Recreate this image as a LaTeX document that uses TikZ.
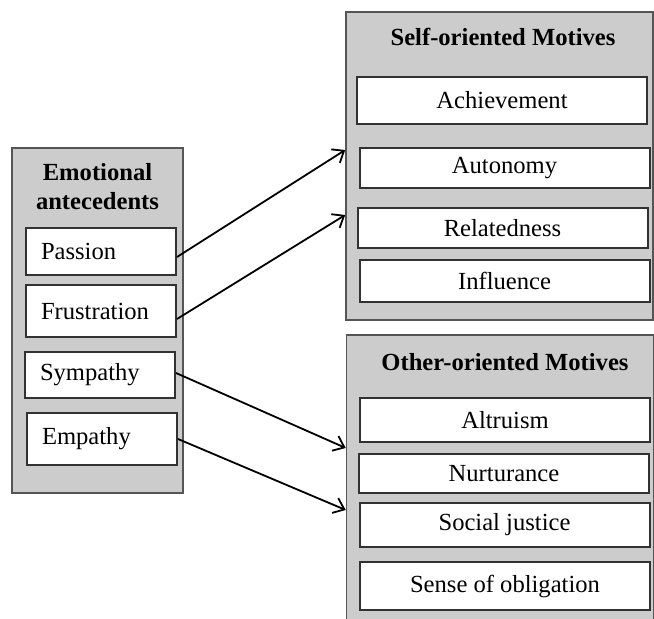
\documentclass[tikz,border=0pt]{standalone}
\usepackage{fontspec}
\setmainfont{Liberation Serif}
\usepackage{xcolor}
\usepackage{tikz}
\usetikzlibrary{positioning,arrows.meta,calc}
\definecolor{panelgray}{RGB}{204,204,204}
\definecolor{panelline}{RGB}{85,85,85}
\definecolor{boxline}{RGB}{50,50,50}

\begin{document}
\begin{tikzpicture}[
    x=0.5pt, y=-0.5pt,
    font=\fontsize{12.3}{14.5}\selectfont,
    panel/.style={draw=panelline, line width=0.8pt, fill=panelgray, inner sep=0pt},
    title/.style={font=\fontsize{12.3}{14.5}\selectfont\bfseries, align=center},
    item/.style={draw=boxline, line width=1pt, fill=white, inner sep=0pt,
        minimum width=145pt},
    emo/.style={draw=boxline, line width=1pt, fill=white, inner xsep=7.5pt,
        inner ysep=0pt, text width=60pt, align=left},
    arrow/.style={-{Straight Barb[length=5pt,width=8pt]}, line width=0.9pt}
]
\useasboundingbox (0,0) rectangle (654,619);
\clip (0,0) rectangle (654,619);

% left panel: emotional antecedents
\node[panel, minimum width=85.5pt, minimum height=172.5pt] (antecedents) at (97.5,320.5) {};
\node[title] (antetitle) at (97.5,187) {Emotional\\antecedents};
\node[emo, minimum height=23.5pt] (passion) at (101,251.5) {Passion};
\node[emo, minimum height=26pt] (frustration) at (101,311) {Frustration};
\node[emo, minimum height=23pt] (sympathy) at (100,375) {Sympathy};
\node[emo, minimum height=26pt] (empathy) at (102,439) {Empathy};

% top right panel: self-oriented motives
\node[panel, minimum width=153.5pt, minimum height=154pt] (selfmot) at (499.5,166) {};
\node[title] (selftitle) at (503,37) {Self-oriented Motives};
\node[item, minimum height=23.5pt] (achieve) at (502,100.5) {Achievement};
\node[item, minimum height=20pt] (autonomy) at (504.5,168) {Autonomy};
\node[item, minimum height=20pt] (related) at (502.5,228) {Relatedness};
\node[item, minimum height=21pt] (influence) at (504.5,281) {Influence};

% bottom right panel: other-oriented motives
\node[panel, minimum width=153.5pt, minimum height=150pt] (othermot) at (500,485) {};
\node[title] (othertitle) at (505,362) {Other-oriented Motives};
\node[item, minimum height=22pt] (altruism) at (505,420) {Altruism};
\node[item, minimum height=19.5pt] (nurture) at (504,473.5) {Nurturance};
\node[item, minimum height=22pt] (justice) at (504.5,525) {Social justice};
\node[item, minimum height=24pt] (obligation) at (505,586) {Sense of obligation};

% arrow targets on the panel edges
\coordinate (selfin1) at (selfmot.west |- 0,150);
\coordinate (selfin2) at (selfmot.west |- 0,215);
\coordinate (otherin1) at (othermot.west |- 0,448);
\coordinate (otherin2) at (othermot.west |- 0,510);

\draw[arrow] ([yshift=-2.75pt]passion.east) -- (selfin1);
\draw[arrow] ([yshift=-4pt]frustration.east) -- (selfin2);
\draw[arrow] ([yshift=1pt]sympathy.east) -- (otherin1);
\draw[arrow] (empathy.east) -- (otherin2);
\end{tikzpicture}
\end{document}
